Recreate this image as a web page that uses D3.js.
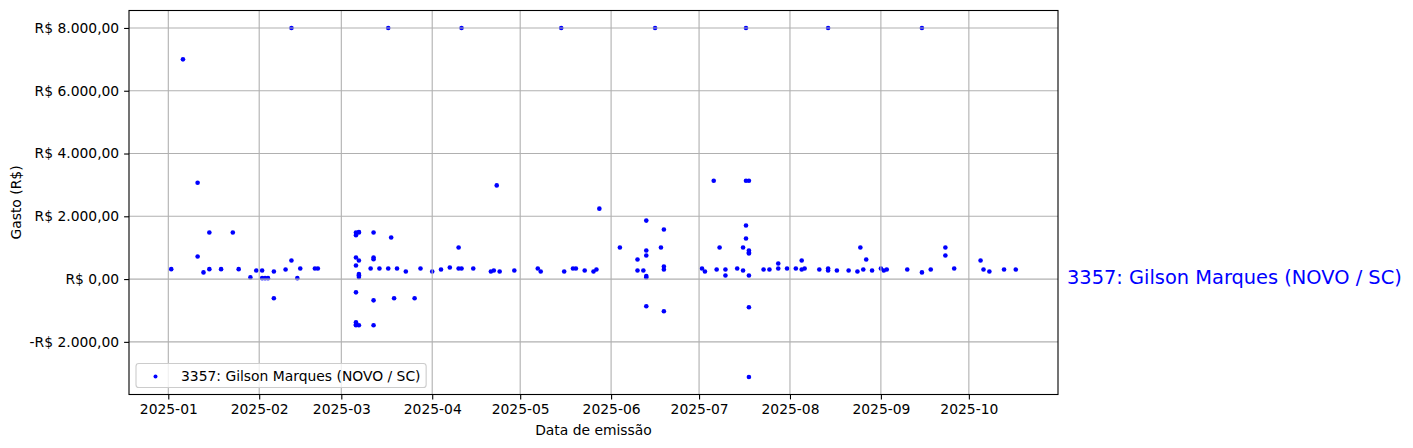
<!DOCTYPE html>
<html>
<head>
<meta charset="utf-8">
<script src="https://cdn.jsdelivr.net/npm/d3@7"></script>
<style>
    body { margin: 0; background: #fff; }
    svg { font-family: "DejaVu Sans", sans-serif; }
</style>
</head>
<body>
<svg id="chart" width="1413" height="448"></svg>
<script>
/*
    Gastos por data de emissão - deputado 3357
    Values (estimated).
*/
var seriesLabel = "3357: Gilson Marques (NOVO / SC)";

var emissionDates = [
    // jan
    "2025-01-02", "2025-01-06", "2025-01-11", "2025-01-11", "2025-01-13", "2025-01-15",
    "2025-01-15", "2025-01-19", "2025-01-23", "2025-01-25", "2025-01-29", "2025-01-31",
    // feb
    "2025-02-02", "2025-02-02", "2025-02-03", "2025-02-04", "2025-02-06", "2025-02-06",
    "2025-02-10", "2025-02-12", "2025-02-12", "2025-02-14", "2025-02-15", "2025-02-20",
    "2025-02-21",
    // mar
    "2025-03-06", "2025-03-07", "2025-03-07", "2025-03-06", "2025-03-12", "2025-03-18",
    "2025-03-06", "2025-03-07", "2025-03-12", "2025-03-12", "2025-03-06", "2025-03-07",
    "2025-03-07", "2025-03-07", "2025-03-11", "2025-03-14", "2025-03-17", "2025-03-17",
    "2025-03-20", "2025-03-23", "2025-03-28", "2025-03-06", "2025-03-12", "2025-03-19",
    "2025-03-26", "2025-03-06", "2025-03-06", "2025-03-07", "2025-03-06", "2025-03-12",
    // apr
    "2025-04-01", "2025-04-04", "2025-04-07", "2025-04-10", "2025-04-10", "2025-04-11",
    "2025-04-11", "2025-04-15", "2025-04-21", "2025-04-22", "2025-04-23", "2025-04-24",
    "2025-04-29",
    // may
    "2025-05-07", "2025-05-08", "2025-05-15", "2025-05-16", "2025-05-19", "2025-05-20",
    "2025-05-23", "2025-05-26", "2025-05-27", "2025-05-28",
    // jun
    "2025-06-04", "2025-06-10", "2025-06-10", "2025-06-12", "2025-06-13", "2025-06-13",
    "2025-06-13", "2025-06-13", "2025-06-13", "2025-06-13", "2025-06-16", "2025-06-18",
    "2025-06-19", "2025-06-19", "2025-06-19", "2025-06-19",
    // jul
    "2025-07-02", "2025-07-03", "2025-07-06", "2025-07-07", "2025-07-08", "2025-07-10",
    "2025-07-10", "2025-07-14", "2025-07-16", "2025-07-16", "2025-07-17", "2025-07-17",
    "2025-07-17", "2025-07-17", "2025-07-18", "2025-07-18", "2025-07-18", "2025-07-18",
    "2025-07-18", "2025-07-18", "2025-07-18", "2025-07-23", "2025-07-25", "2025-07-28",
    "2025-07-28", "2025-07-31",
    // aug
    "2025-08-03", "2025-08-05", "2025-08-05", "2025-08-06", "2025-08-11", "2025-08-14",
    "2025-08-14", "2025-08-14", "2025-08-17", "2025-08-21", "2025-08-24", "2025-08-25",
    "2025-08-26", "2025-08-27", "2025-08-29",
    // sep
    "2025-09-01", "2025-09-02", "2025-09-03", "2025-09-10", "2025-09-15", "2025-09-15",
    "2025-09-18", "2025-09-23", "2025-09-23", "2025-09-26",
    // oct
    "2025-10-05", "2025-10-06", "2025-10-08", "2025-10-13", "2025-10-17"
];

var amounts = [
    // jan
    317, 7000, 720, 3070, 212, 317,
    1482, 317, 1482, 317, 53, 275,
    // feb
    275, 30, 30, 30, -612, 243,
    307, 593, 8000, 30, 339, 339,
    339,
    // mar
    1482, 1500, 1482, 1400, 1482, 1323,
    688, 593, 688, 635, 434, 159,
    120, 63, 339, 339, 339, 8000,
    339, 243, 339, -423, -677, -612,
    -612, -1375, -1450, -1470, -1470, -1470,
    // apr
    243, 307, 370, 339, 1006, 339,
    8000, 339, 243, 275, 2984, 243,
    275,
    // may
    339, 243, 8000, 243, 339, 339,
    275, 243, 307, 2244,
    // jun
    1006, 625, 275, 275, 1863, 911,
    752, 95, 54, -867, 8000, 1006,
    1578, 403, -1025, 307,
    // jul
    339, 243, 3133, 307, 1006, 307,
    116, 339, 1006, 275, 8000, 3133,
    1705, 1292, 3133, 911, 847, 815,
    116, -898, -3121, 307, 307, 498,
    339, 339,
    // aug
    339, 593, 307, 339, 307, 339,
    275, 8000, 275, 275, 243, 1006,
    307, 625, 275,
    // sep
    339, 275, 307, 307, 8000, 212,
    307, 1006, 752, 339,
    // oct
    593, 307, 243, 307, 307
];

var monthTicks = ["2025-01-01", "2025-02-01", "2025-03-01", "2025-04-01", "2025-05-01",
    "2025-06-01", "2025-07-01", "2025-08-01", "2025-09-01", "2025-10-01"];
var valueTicks = [-2000, 0, 2000, 4000, 6000, 8000];

function GastoChart(svg){
    var _root = d3.select(svg);
    var _left = 129, _right = 1058, _top = 10.5, _bottom = 394.5;
    var _fs = 13.89;
    var _grid = "#b0b0b0";
    var _color = "#0000ff";

    var parse = d3.utcParse("%Y-%m-%d");
    var data = emissionDates.map(function(d, i){
        return {date: parse(d), value: amounts[i]};
    });

    // matplotlib style 5% margins
    var xExt = d3.extent(data, function(d){ return +d.date; });
    var yExt = d3.extent(data, function(d){ return d.value; });
    var xPad = (xExt[1] - xExt[0]) * 0.05;
    var yPad = (yExt[1] - yExt[0]) * 0.05;

    var x = d3.scaleUtc()
        .domain([new Date(xExt[0] - xPad), new Date(xExt[1] + xPad)])
        .range([_left, _right]);
    var y = d3.scaleLinear()
        .domain([yExt[0] - yPad, yExt[1] + yPad])
        .range([_bottom, _top]);

    var brl = d3.formatLocale({
        decimal: ",", thousands: ".", grouping: [3],
        currency: ["R$ ", ""], minus: "-"
    });
    var fmtMoney = brl.format("$,.2f");
    var fmtMonth = d3.utcFormat("%Y-%m");

    // points first, grid over them (like mpl zorder)
    _root.append("g")
        .selectAll("circle")
        .data(data)
        .enter().append("circle")
        .attr("cx", function(d){ return x(d.date); })
        .attr("cy", function(d){ return y(d.value); })
        .attr("r", 2.3)
        .attr("fill", _color);

    var grid = _root.append("g");
    grid.selectAll("line.gx")
        .data(monthTicks.map(parse))
        .enter().append("line")
        .attr("x1", function(d){ return x(d); })
        .attr("x2", function(d){ return x(d); })
        .attr("y1", _top).attr("y2", _bottom)
        .attr("stroke", _grid).attr("stroke-width", 1.1);
    grid.selectAll("line.gy")
        .data(valueTicks)
        .enter().append("line")
        .attr("y1", function(d){ return y(d); })
        .attr("y2", function(d){ return y(d); })
        .attr("x1", _left).attr("x2", _right)
        .attr("stroke", _grid).attr("stroke-width", 1.1);

    // axes
    var xAxis = d3.axisBottom(x)
        .tickValues(monthTicks.map(parse))
        .tickFormat(fmtMonth)
        .tickSize(4.9).tickPadding(4.9);
    var yAxis = d3.axisLeft(y)
        .tickValues(valueTicks)
        .tickFormat(fmtMoney)
        .tickSize(4.9).tickPadding(4.9);

    var gx = _root.append("g")
        .attr("transform", "translate(0," + _bottom + ")")
        .call(xAxis);
    var gy = _root.append("g")
        .attr("transform", "translate(" + _left + ",0)")
        .call(yAxis);
    [gx, gy].forEach(function(g){
        g.select(".domain").remove();
        g.selectAll(".tick line").attr("stroke", "#000").attr("stroke-width", 1.1);
        g.selectAll(".tick text")
            .attr("fill", "#000")
            .style("font-family", "DejaVu Sans")
            .style("font-size", _fs + "px");
    });

    // frame
    _root.append("rect")
        .attr("x", _left).attr("y", _top)
        .attr("width", _right - _left).attr("height", _bottom - _top)
        .attr("fill", "none").attr("stroke", "#000").attr("stroke-width", 1.1);

    // axis labels
    _root.append("text")
        .attr("x", (_left + _right) / 2).attr("y", 435)
        .attr("text-anchor", "middle")
        .style("font-size", _fs + "px")
        .text("Data de emissão");
    _root.append("text")
        .attr("transform", "translate(21," + ((_top + _bottom) / 2) + ") rotate(-90)")
        .attr("text-anchor", "middle")
        .style("font-size", _fs + "px")
        .text("Gasto (R$)");

    // legend
    var lg = _root.append("g");
    var box = lg.append("rect")
        .attr("x", 136).attr("rx", 2.8).attr("ry", 2.8)
        .attr("fill", "#fff").attr("fill-opacity", 0.8)
        .attr("stroke", "#cccccc").attr("stroke-width", 1.1);
    var lt = lg.append("text")
        .attr("x", 181).attr("y", 376)
        .attr("dominant-baseline", "central")
        .style("font-size", _fs + "px")
        .text(seriesLabel);
    lg.append("circle")
        .attr("cx", 155.5).attr("cy", 376.5).attr("r", 2)
        .attr("fill", _color);
    var tw = lt.node().getComputedTextLength();
    box.attr("y", 363.5).attr("height", 24)
        .attr("width", 181 + tw + 5.6 - 136);

    // label at the right, at y = 0
    _root.append("text")
        .attr("x", _right + 9).attr("y", y(0) - 1.5)
        .attr("dominant-baseline", "central")
        .attr("fill", _color)
        .style("font-size", "19.4px")
        .text(seriesLabel);
}

GastoChart(document.getElementById("chart"));
</script>
</body>
</html>
